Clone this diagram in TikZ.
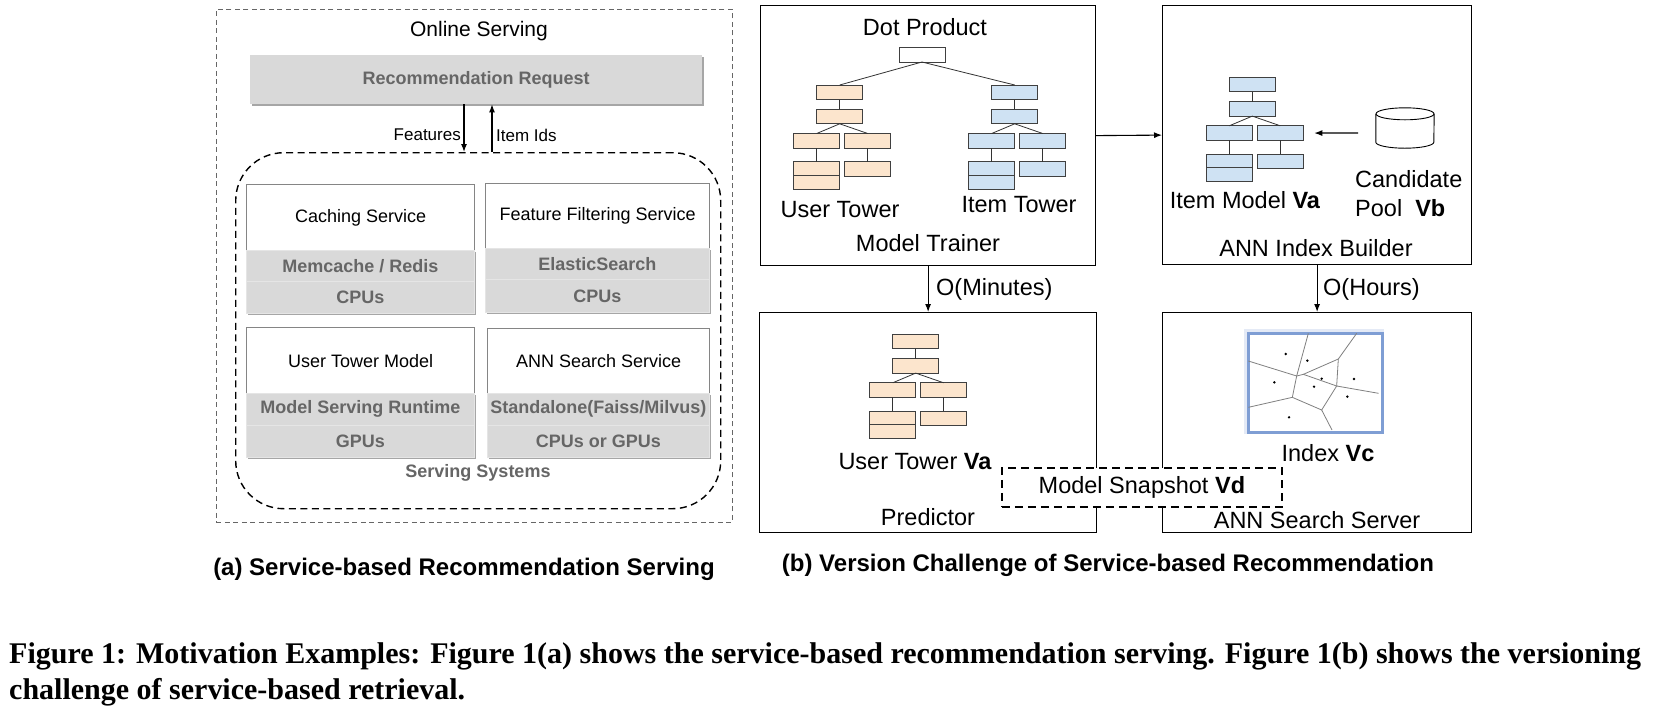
\documentclass[tikz,border=0pt]{standalone}
\usepackage{fontspec}
\setmainfont{Liberation Sans}
\newfontfamily\capserif{Liberation Serif}
\usetikzlibrary{arrows.meta,calc,shadows}
\definecolor{rowgray}{HTML}{D9D9D9}
\definecolor{rowtext}{HTML}{666666}
\definecolor{towero}{HTML}{FCE5CD}
\definecolor{towerb}{HTML}{CFE2F3}
\definecolor{vorblue}{HTML}{7F9ED4}
\definecolor{svcborder}{HTML}{858585}
\tikzset{
  arr/.style={-{Latex[length=8pt,width=6pt]}, line width=1.1pt},
  outerdash/.style={draw=black!60, line width=0.9pt, dash pattern=on 5pt off 3.5pt, inner sep=0, anchor=north west},
  sysdash/.style={draw=black, line width=1.4pt, dash pattern=on 7pt off 4.5pt, rounded corners=48pt, inner sep=0, anchor=north west},
  svctop/.style={draw=svcborder, line width=1.2pt, fill=white, inner sep=0, anchor=north west, font=\fontsize{18pt}{21pt}\selectfont},
  svcrow/.style={fill=rowgray, draw=black!10, line width=0.6pt, inner sep=0, anchor=north west, text=rowtext, font=\bfseries\fontsize{18pt}{21pt}\selectfont, drop shadow={shadow xshift=1.5pt, shadow yshift=-2pt, opacity=0.35, fill=black}},
  reqbox/.style={fill=rowgray, inner sep=0, anchor=north west, text=rowtext, font=\bfseries\fontsize{18pt}{21pt}\selectfont, drop shadow={shadow xshift=1.5pt, shadow yshift=-2pt, opacity=0.35, fill=black}},
  graylbl/.style={text=rowtext, font=\bfseries\fontsize{18pt}{21pt}\selectfont, inner sep=0},
  smalllbl/.style={font=\fontsize{17pt}{20pt}\selectfont, inner sep=0},
  rbox/.style={draw=black, line width=1.2pt, inner sep=0, anchor=north west},
  rtext/.style={font=\fontsize{23.5pt}{27pt}\selectfont, inner sep=0},
  trect/.style={draw=black!75, line width=0.8pt, inner sep=0, outer sep=0, minimum width=46pt, minimum height=14.5pt, anchor=north west},
  tline/.style={draw=black!80, line width=0.8pt},
  snapbox/.style={draw=black, line width=1.8pt, dash pattern=on 8pt off 5pt, fill=white, inner sep=0, anchor=north west, font=\fontsize{23.5pt}{27pt}\selectfont},
  subcap/.style={font=\bfseries\fontsize{24pt}{28pt}\selectfont, inner sep=0},
  figcap/.style={font=\capserif\bfseries\fontsize{30pt}{35pt}\selectfont, inner sep=0, anchor=base west},
  vorline/.style={draw=black!50, line width=0.8pt},
  pics/tower/.style={code={
    \node[trect, fill=#1] (-r1) at (0,0) {};
    \node[trect, fill=#1] (-r2) at (0,24.3) {};
    \node[trect, fill=#1] (-r3a) at (-23,48.5) {};
    \node[trect, fill=#1] (-r3b) at (28,48.5) {};
    \node[trect, fill=#1, minimum height=13.8pt] (-r4a) at (-23,76.7) {};
    \node[trect, fill=#1, minimum height=13.8pt] (-r4c) at (-23,90.5) {};
    \node[trect, fill=#1] (-r4b) at (28,76.7) {};
    \draw[tline] (-r1) -- (-r2);
    \draw[tline] (-r2.south) -- (-r3a.north);
    \draw[tline] (-r2.south) -- (-r3b.north);
    \draw[tline] (-r3a) -- (-r4a);
    \draw[tline] (-r3b) -- (-r4b);
  }}
}
\begin{document}
\begin{tikzpicture}[x=1pt,y=-1pt]
\useasboundingbox (0,0) rectangle (1660,710);
\fill[white] (0,0) rectangle (1660,710);

% ---------------- (a) left panel ----------------
\node[outerdash, minimum width=516pt, minimum height=513pt] (online) at (216,9) {};
\node[font=\fontsize{21pt}{24pt}\selectfont, inner sep=0] (onlinet) at (479,31) {Online Serving};
\node[reqbox, minimum width=452pt, minimum height=49pt] (req) at (250,55) {Recommendation Request};
\node[sysdash, minimum width=485pt, minimum height=356pt] (sys) at (235,152) {};

\coordinate (fa) at (464,152);
\coordinate (ia) at (492,152);
\draw[arr] (req.south -| fa) -- (fa);
\draw[arr] (ia) -- (req.south -| ia);
\node[smalllbl, anchor=east] (featl) at (461,135) {Features};
\node[smalllbl, anchor=west] (idl) at (496,135) {Item Ids};

% caching
\node[svctop, minimum width=228pt, minimum height=66pt] (cache) at (246,184) {Caching Service};
\node[svcrow, minimum width=228pt, minimum height=31pt] (cache1) at (246,250) {Memcache / Redis};
\node[svcrow, minimum width=228pt, minimum height=32pt] (cache2) at (246,281) {CPUs};
% feature filtering
\node[svctop, minimum width=224pt, minimum height=65pt] (filt) at (485,183) {Feature Filtering Service};
\node[svcrow, minimum width=224pt, minimum height=31pt] (filt1) at (485,248) {ElasticSearch};
\node[svcrow, minimum width=224pt, minimum height=33pt] (filt2) at (485,279) {CPUs};
% user tower model
\node[svctop, minimum width=228pt, minimum height=66pt] (utm) at (246,327) {User Tower Model};
\node[svcrow, minimum width=228pt, minimum height=32pt] (utm1) at (246,393) {Model Serving Runtime};
\node[svcrow, minimum width=228pt, minimum height=32pt] (utm2) at (246,425) {GPUs};
% ANN search service
\node[svctop, minimum width=222pt, minimum height=65pt] (anns) at (487,328) {ANN Search Service};
\node[svcrow, minimum width=222pt, minimum height=32pt] (anns1) at (487,393) {Standalone(Faiss/Milvus)};
\node[svcrow, minimum width=222pt, minimum height=32pt] (anns2) at (487,425) {CPUs or GPUs};

\node[graylbl] (sysl) at (478,473) {Serving Systems};

% ---------------- (b) right panel ----------------
\node[rbox, minimum width=335pt, minimum height=260pt] (trainer) at (760,5) {};
\node[rbox, minimum width=309pt, minimum height=259pt] (builder) at (1162,5) {};
\node[rbox, minimum width=337pt, minimum height=220pt] (predictor) at (759,312) {};
\node[rbox, minimum width=309pt, minimum height=220pt] (server) at (1162,312) {};

% trainer content
\node[rtext] (dotl) at (925,27) {Dot Product};
\node[trect, fill=white, minimum height=15pt] (dot) at (899,47) {};
\pic (ut) at (816.7,85) {tower=towero};
\pic (it) at (991.7,85) {tower=towerb};
\draw[tline] (dot.south) -- (ut-r1.north);
\draw[tline] (dot.south) -- (it-r1.north);
\node[rtext] (utl) at (840,210) {User Tower};
\node[rtext] (itl) at (1019,205) {Item Tower};
\node[rtext] (trainerl) at (928,243) {Model Trainer};

% builder content
\pic (im) at (1229.3,77.3) {tower=towerb};
\node[rtext] (iml) at (1245,200) {Item Model \textbf{Va}};
\node[inner sep=0, minimum width=58pt, minimum height=40pt] (cyl) at (1405,128) {};
\draw[line width=0.9pt, fill=white] ([yshift=-6pt]cyl.north west) -- ([yshift=6pt]cyl.south west)
   arc[start angle=180, end angle=360, x radius=29pt, y radius=6pt] -- ([yshift=-6pt]cyl.north east);
\draw[line width=0.9pt] ([yshift=-6pt]cyl.north) ellipse [x radius=29pt, y radius=6pt];
\coordinate (poolout) at (1358,133);
\draw[arr] (poolout) -- ([xshift=11pt]im-r3b.east);
\node[rtext, anchor=west] (candl) at (1355,179) {Candidate};
\node[rtext, anchor=west] (pooll) at (1355,208) {Pool~~\textbf{Vb}};
\node[rtext] (builderl) at (1316,248) {ANN Index Builder};

% connectors between boxes
\draw[arr] (trainer.east) -- (builder.west);
\draw[arr] (trainer.south) -- (predictor.north);
\draw[arr] (builder.south) -- (server.north);
\node[rtext, anchor=west] (minl) at (936,289) {O(Minutes)};
\node[rtext, anchor=west] (hrl) at (1323,289) {O(Hours)};

% predictor content
\pic (pt) at (892.7,334.3) {tower=towero};
\node[rtext] (ptl) at (915,462) {User Tower \textbf{Va}};
\node[rtext] (predl) at (928,517) {Predictor};

% server content: Voronoi index
\draw[vorblue!35, line width=6pt, opacity=0.6] (1247,332) rectangle (1381,431);
\node[draw=vorblue, fill=white, line width=2.6pt, inner sep=0, anchor=north west, minimum width=134pt, minimum height=99pt] (vor) at (1247,332) {};
\begin{scope}[shift={(1090,280)}, scale=1/3]
  \coordinate (v1) at (620,288);
  \coordinate (v2) at (640,283);
  \coordinate (v3) at (745,237);
  \coordinate (v4) at (740,318);
  \coordinate (v6) at (607,352);
  \coordinate (v7) at (695,390);
  \draw[vorline] (655,160) -- (v1);
  \draw[vorline] (475,243) -- (v1);
  \draw[vorline] (v1) -- (v2) -- (v3) -- (800,160);
  \draw[vorline] (v3) -- (v4) -- (866,340);
  \draw[vorline] (v2) -- (v4) -- (v7) -- (726,450);
  \draw[vorline] (v1) -- (v6) -- (475,382);
  \draw[vorline] (v6) -- (v7);
  \foreach \p in {(587,222),(652,242),(553,307),(695,296),(672,320),(792,297),(772,350),(597,412)}
    \fill \p circle[radius=4];
\end{scope}
\node[rtext] (idxl) at (1328,453) {Index \textbf{Vc}};
\node[rtext] (serverl) at (1317,520) {ANN Search Server};

% model snapshot
\node[snapbox, minimum width=280pt, minimum height=39pt] (snap) at (1001,467) {Model Snapshot \textbf{Vd}};

% ---------------- captions ----------------
\node[subcap] (capa) at (464,569) {(a) Service-based Recommendation Serving};
\node[subcap] (capb) at (1108,565) {(b) Version Challenge of Service-based Recommendation};
\node[figcap] (cap1) at (9,663) {Figure 1: Motivation Examples: Figure 1(a) shows the service-based recommendation serving. Figure 1(b) shows the versioning};
\node[figcap] (cap2) at (9,699) {challenge of service-based retrieval.};
\end{tikzpicture}
\end{document}
